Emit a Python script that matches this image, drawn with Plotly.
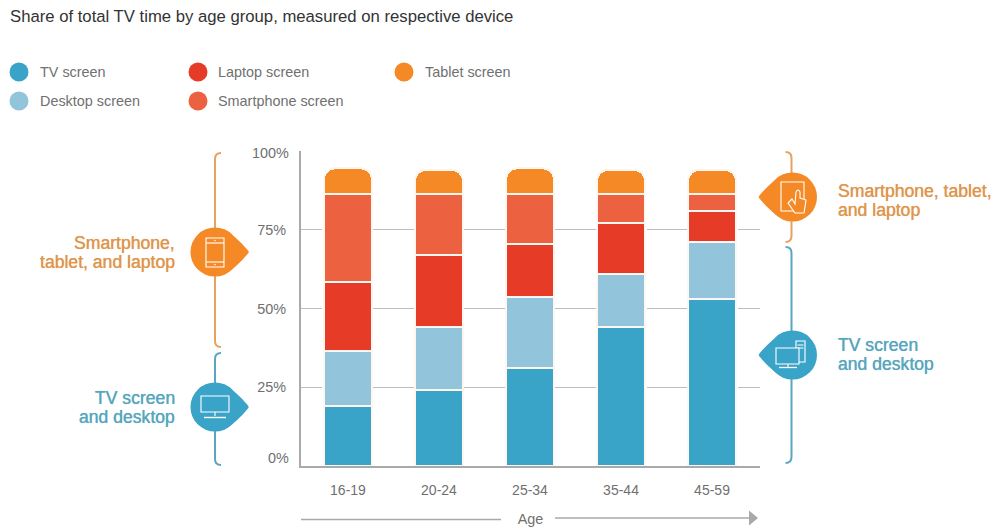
import plotly.graph_objects as go

W, H = 994, 527

# Chart data: share of TV time (%) per age group, stacked from the bottom up
age_groups = ["16-19", "20-24", "25-34", "35-44", "45-59"]
tv_screen = [19, 24, 31, 44, 53]
desktop_screen = [17.5, 20, 22.5, 17, 18]
laptop_screen = [22, 23, 17, 16, 10]
smartphone_screen = [28, 19.5, 16, 9.5, 5.5]
tablet_screen = [8, 7.5, 8, 7.5, 7.5]
y_ticks = [25, 50, 75]
y_tick_labels = ["25%", "50%", "75%"]

TEAL, LIGHT_BLUE, RED, CORAL, ORANGE = "#3AA4C8", "#92C4DC", "#E53B27", "#EC6240", "#F58926"
BRACE_ORANGE, BRACE_TEAL = "#E7A262", "#5BA6BF"
TEXT_ORANGE, TEXT_TEAL = "#DE9550", "#5AA5BD"
GREY_TEXT, AXIS_GREY, GRID_GREY = "#707070", "#A9A9A9", "#BDBDBD"
FONT = "Liberation Sans"

series = [
    ("TV screen", tv_screen, TEAL),
    ("Desktop screen", desktop_screen, LIGHT_BLUE),
    ("Laptop screen", laptop_screen, RED),
    ("Smartphone screen", smartphone_screen, CORAL),
    ("Tablet screen", tablet_screen, ORANGE),
]
totals = [sum(parts) for parts in zip(*[s[1] for s in series])]


def fx(x):
    return x / W


def fy(y):
    return 1 - y / H


def path(points):
    """Build an SVG path in paper space; a point is (cmd, x, y, ...) in pixels."""
    out = []
    for cmd, *xy in points:
        coords = [f"{fx(v) if i % 2 == 0 else fy(v):.5f}" for i, v in enumerate(xy)]
        out.append(cmd + " " + " ".join(coords) if cmd != "Z" else "Z")
    return " ".join(out)


shapes = []


def add_path(points, fill=None, line=None, width=1.0):
    shapes.append(dict(
        type="path", xref="paper", yref="paper", path=path(points),
        fillcolor=fill if fill else "rgba(0,0,0,0)",
        line=dict(color=line if line else "rgba(0,0,0,0)", width=width if line else 0),
    ))


def add_circle(cx, cy, r, fill):
    shapes.append(dict(
        type="circle", xref="paper", yref="paper",
        x0=fx(cx - r), x1=fx(cx + r), y0=fy(cy + r), y1=fy(cy - r),
        fillcolor=fill, line=dict(width=0),
    ))


def add_line(x0, y0, x1, y1, color, width=1.0):
    shapes.append(dict(
        type="line", xref="paper", yref="paper",
        x0=fx(x0), x1=fx(x1), y0=fy(y0), y1=fy(y1),
        line=dict(color=color, width=width),
    ))


def add_rect(x0, y0, x1, y1):
    add_path([("M", x0, y0), ("L", x1, y0), ("L", x1, y1), ("L", x0, y1), ("Z",)],
             line="white", width=1.1)


def brace(x, top, bottom, direction, color):
    """Vertical bracket whose ends curl towards `direction` (+1 right, -1 left)."""
    add_path([
        ("M", x + 6 * direction, top),
        ("Q", x, top, x, top + 6),
        ("L", x, bottom - 6),
        ("Q", x, bottom, x + 6 * direction, bottom),
    ], line=color, width=2)


def callout(cx, cy, direction, color):
    """Round badge with a pointed tip aimed at the bars."""
    r = 24.5
    tip = cx + 33.5 * direction
    add_circle(cx, cy, r, color)
    add_path([
        ("M", cx + 9 * direction, cy - 22.8),
        ("Q", cx + 22 * direction, cy - 15, tip - 0.5 * direction, cy - 1.5),
        ("Q", tip + 1 * direction, cy, tip - 0.5 * direction, cy + 1.5),
        ("Q", cx + 22 * direction, cy + 15, cx + 9 * direction, cy + 22.8),
        ("Z",),
    ], fill=color)


# Left-hand and right-hand group brackets
brace(215, 153, 347, 1, BRACE_ORANGE)
brace(215, 353, 465, 1, BRACE_TEAL)
brace(791.5, 152, 242, -1, BRACE_ORANGE)
brace(791.5, 247, 463, -1, BRACE_TEAL)

callout(215, 252, 1, ORANGE)
callout(215, 407, 1, TEAL)
callout(792.5, 197, -1, ORANGE)
callout(792.5, 355, -1, TEAL)

# Phone icon
add_rect(206, 238, 224, 267)
add_line(206, 243, 224, 243, "white", 1.1)
add_line(206, 262, 224, 262, "white", 1.1)
add_circle(215, 240.5, 0.8, "white")
add_circle(215, 264.5, 0.8, "white")

# Television icon
add_rect(201, 396, 229, 412)
add_line(215, 412, 215, 416, "white", 1.1)
add_line(204, 417.5, 226, 417.5, "white", 1.4)

# Tablet with pointing hand
add_rect(781, 182, 804, 211)
add_path([
    ("M", 792, 199), ("L", 795, 204), ("L", 796, 192), ("Q", 798, 188, 800, 192),
    ("L", 800, 198), ("L", 806, 200), ("L", 804, 213), ("L", 795, 213), ("L", 788, 203), ("Z",),
], fill=ORANGE, line="white", width=1.1)

# Desktop with tower
add_rect(796, 341, 805, 362)
add_line(797.5, 345, 803.5, 345, "white", 1)
add_line(797.5, 348, 803.5, 348, "white", 1)
add_path([("M", 776, 348), ("L", 799, 348), ("L", 799, 364), ("L", 776, 364), ("Z",)],
         fill=TEAL, line="white", width=1.1)
add_line(788, 364, 788, 367, "white", 1.1)
add_line(779, 367.5, 797, 367.5, "white", 1.3)

# Age arrow beneath the axis
add_line(301, 519.5, 501, 519.5, AXIS_GREY, 1.6)
add_line(555, 518, 751, 518, AXIS_GREY, 1.6)
add_path([("M", 749, 510.5), ("L", 758, 518), ("L", 749, 525.5), ("Z",)], fill=AXIS_GREY)

# Legend swatches
legend_items = [
    ("TV screen", TEAL, 19, 39, 72),
    ("Laptop screen", RED, 198, 217, 72),
    ("Tablet screen", ORANGE, 404, 423.5, 72),
    ("Desktop screen", LIGHT_BLUE, 19, 39, 101),
    ("Smartphone screen", CORAL, 198, 217, 101),
]
for _, color, cx, _, cy in legend_items:
    add_circle(cx, cy, 9.5, color)


def label(x, y, text, color, size, anchor="left", shadow=False):
    font = dict(family=FONT, size=size, color=color)
    if shadow:
        font["shadow"] = f"0 0 0.7px {color}"
    return dict(
        xref="paper", yref="paper", x=fx(x), y=fy(y), text=text, showarrow=False,
        xanchor=anchor, yanchor="middle", align=anchor, font=font, borderpad=0,
    )


annotations = [label(9, 17, "Share of total TV time by age group, measured on respective device", "#333333", 16.7)]
annotations += [label(tx, cy, name, GREY_TEXT, 14.4) for name, _, _, tx, cy in legend_items]
annotations += [
    label(176, 243, "Smartphone,", TEXT_ORANGE, 17.6, "right", True),
    label(176, 262, "tablet, and laptop", TEXT_ORANGE, 17.6, "right", True),
    label(176, 398, "TV screen", TEXT_TEAL, 17.6, "right", True),
    label(176, 417, "and desktop", TEXT_TEAL, 17.6, "right", True),
    label(837, 191, "Smartphone, tablet,", TEXT_ORANGE, 17.6, "left", True),
    label(837, 210, "and laptop", TEXT_ORANGE, 17.6, "left", True),
    label(837, 345, "TV screen", TEXT_TEAL, 17.6, "left", True),
    label(837, 364, "and desktop", TEXT_TEAL, 17.6, "left", True),
    # The end labels sit slightly inside the axis span
    label(290, 153, "100%", GREY_TEXT, 14.4, "right"),
    label(290, 458, "0%", GREY_TEXT, 14.4, "right"),
]

fig = go.Figure()

# White bars on the base axes break the gridlines around each stack
fig.add_bar(x=age_groups, y=totals, width=0.56, marker=dict(color="white", line=dict(width=0)),
            showlegend=False, hoverinfo="skip")

for name, values, color in series:
    fig.add_bar(x=age_groups, y=values, name=name, xaxis="x2", yaxis="y2", width=0.527,
                marker=dict(color=color, line=dict(color="#FDF6F1", width=2)), showlegend=False)

x_range = [-0.516, 4.527]
y_range = [0, 100]
plot_x = [301 / W, 760 / W]
plot_y = [1 - 466 / H, 1 - 151 / H]

fig.update_layout(
    width=W, height=H, margin=dict(l=0, r=0, t=0, b=0, autoexpand=False),
    paper_bgcolor="white", plot_bgcolor="white",
    barmode="stack", barcornerradius=11,
    shapes=shapes, annotations=annotations, showlegend=False,
    font=dict(family=FONT, color=GREY_TEXT),
    xaxis=dict(
        domain=plot_x, range=x_range, type="category", categoryorder="array", categoryarray=age_groups,
        showgrid=False, showline=True, linecolor=AXIS_GREY, linewidth=2, ticks="", automargin=False,
        ticklabelstandoff=10, tickfont=dict(family=FONT, size=14, color=GREY_TEXT),
        title=dict(text="Age", standoff=20, font=dict(family=FONT, size=14.4, color=GREY_TEXT)),
    ),
    yaxis=dict(
        domain=plot_y, range=y_range, tickvals=y_ticks, ticktext=y_tick_labels,
        showgrid=True, gridcolor=GRID_GREY, gridwidth=1, zeroline=False, automargin=False,
        showline=True, linecolor=AXIS_GREY, linewidth=2, ticks="", ticklabelstandoff=10,
        tickfont=dict(family=FONT, size=14.4, color=GREY_TEXT),
    ),
    xaxis2=dict(
        domain=plot_x, range=x_range, type="category", categoryorder="array", categoryarray=age_groups,
        overlaying="x", anchor="y2", visible=False,
    ),
    yaxis2=dict(domain=plot_y, range=y_range, overlaying="y", anchor="x2", visible=False),
)

fig.write_html("out.html", config=dict(displayModeBar=False))
